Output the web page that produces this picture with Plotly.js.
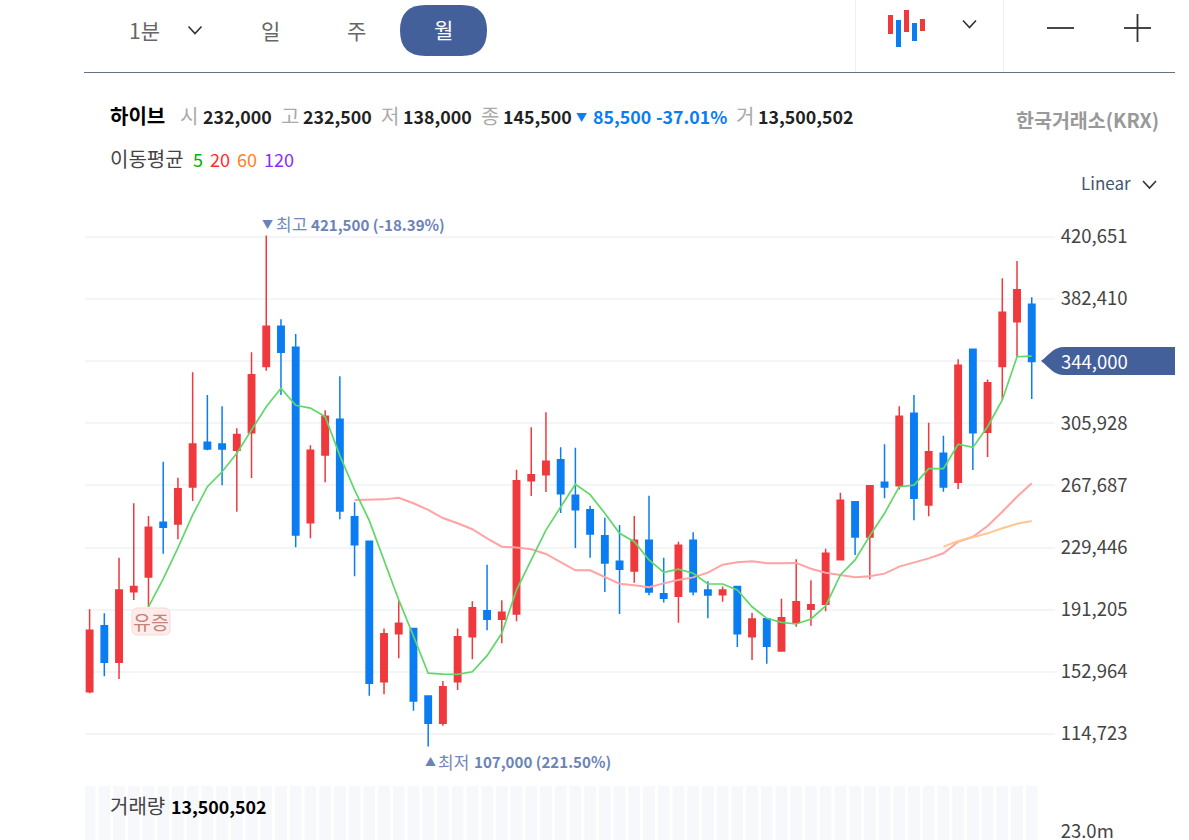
<!DOCTYPE html>
<html><head><meta charset="utf-8">
<script src="https://cdn.plot.ly/plotly-3.0.1.min.js"></script>
<style>html,body{margin:0;padding:0;background:#fff;overflow:hidden}#c{width:1189px;height:840px}</style>
</head><body><div id="c"></div>
<script>
const periods=[1,2,3,4,5,6,7,8,9,10,11,12,13,14,15,16,17,18,19,20,21,22,23,24,25,26,27,28,29,30,31,32,33,34,35,36,37,38,39,40,41,42,43,44,45,46,47,48,49,50,51,52,53,54,55,56,57,58,59,60,61,62,63,64,65];
const opens=[140700,181300,158800,202300,211300,245000,243900,266700,294200,293200,289300,300100,340800,365600,352700,244700,286400,308400,248400,233300,146900,176400,179700,138100,121300,146900,174600,190600,185300,188500,270600,274300,283500,261600,252700,236700,221000,215000,233900,201000,199400,233900,203300,200400,205400,174600,185700,165800,183400,191400,194500,222000,257700,235900,269600,267500,312100,255600,287500,269600,351500,300400,340800,368400,379200];
const highs=[191400,189000,223200,256700,248900,282300,272400,337300,323300,316400,302800,349600,421500,369900,360900,292400,313900,334800,257300,233300,179700,196500,179700,138100,147300,179700,196400,218900,197000,277400,303500,312700,291100,290900,255200,247800,243300,248900,261400,223200,233000,238800,208700,205400,205400,189300,185700,198000,222200,209300,228700,263200,257700,267500,293000,316400,323300,306300,298300,345300,351500,332800,395200,405800,383500];
const lows=[139700,150200,148500,197200,192900,225700,234500,258100,289300,267800,251500,272300,338300,323300,229600,235100,269600,246800,211800,138300,139100,161300,129000,107000,119800,141800,160700,178500,170500,184100,261200,263600,250700,229200,223200,202100,188500,207800,200100,195700,183200,200100,185900,196100,168200,160200,158000,165800,180700,181300,190200,222000,224900,209900,259800,265100,246200,248700,263800,265500,277200,285200,320300,346900,320900];
const closes=[178500,158800,203300,205400,241900,241900,265700,293200,290100,290100,299100,335800,365600,349600,237200,289300,310200,251900,231200,145900,176400,182800,135000,121300,143800,174600,192400,185300,189600,270600,274300,282500,262600,252700,237800,219900,216100,233900,202100,198200,230800,202300,200200,203300,176400,185500,168700,186300,196100,194300,225900,258500,235900,267500,266700,310200,259800,288400,266700,341600,300100,330900,374200,388100,344000];
const ma5=[192900,210100,229200,249500,266900,276100,287500,301800,316100,327500,317000,315300,310000,286000,264900,246000,221800,197200,175000,152100,151600,151400,153000,162900,176700,203300,221800,240200,254400,268400,262000,250500,238200,233000,221800,214200,216100,213600,207000,207000,203300,193000,185900,183400,182400,185500,193500,212600,221800,236700,250500,266900,267900,278000,278000,293000,291100,303800,320300,346900,347300];
const ma20=[258700,259100,259100,260100,256700,252600,247600,244400,240700,235100,230000,229400,228400,225500,220400,215400,215400,211500,207200,206200,205000,207400,209500,211100,214000,218900,220400,221000,219800,219800,220000,216400,214000,212600,211100,211800,213400,217700,220100,222800,225900,233000,236100,242700,251500,260700,269000];
const ma60=[230000,233500,235800,238200,241300,244100,245800];
const volumeColumns=[28.75,28.75,28.75,28.75,28.75,28.75,28.75,28.75,28.75,28.75,28.75,28.75,28.75,28.75,28.75,28.75,28.75,28.75,28.75,28.75,28.75,28.75,28.75,28.75,28.75,28.75,28.75,28.75,28.75,28.75,28.75,28.75,28.75,28.75,28.75,28.75,28.75,28.75,28.75,28.75,28.75,28.75,28.75,28.75,28.75,28.75,28.75,28.75,28.75,28.75,28.75,28.75,28.75,28.75,28.75,28.75,28.75,28.75,28.75,28.75,28.75,28.75,28.75,28.75,28.75];
const priceTicks=[114723,152964,191205,229446,267687,305928,344000,382410,420651];
const priceLabels=['114,723','152,964','191,205','229,446','267,687','305,928','','382,410','420,651'];
const volumeTicks=[23.0];
const volumeLabels=['23.0m'];

const RED='#EF393D',BLUE='#0A7DF3',NAVY='#44609A',FONT='"Noto Sans CJK KR","Noto Sans",sans-serif';
const W=1189,H=840,fx=x=>x/W,fy=y=>1-y/H;
const annotations=[],shapes=[];
function T(x,y,text,size,color,o={}){annotations.push({xref:'paper',yref:'paper',x:fx(x),y:fy(y),text,showarrow:false,
  xanchor:o.a||'left',yanchor:'middle',borderpad:0,font:{family:FONT,size,color,weight:o.w||400}});}
function path(pts){return pts.map(s=>typeof s==='string'?s:(fx(s[0]).toFixed(5)+','+fy(s[1]).toFixed(5))).join(' ');}
function R(x0,y0,x1,y1,fill){shapes.push({type:'rect',xref:'paper',yref:'paper',x0:fx(x0),x1:fx(x1),y0:fy(y0),y1:fy(y1),fillcolor:fill,line:{width:0},layer:'above'});}
function L(x0,y0,x1,y1,c,w){shapes.push({type:'line',xref:'paper',yref:'paper',x0:fx(x0),x1:fx(x1),y0:fy(y0),y1:fy(y1),line:{color:c,width:w},layer:'above'});}
function P(d,fill,lc,lw){shapes.push({type:'path',xref:'paper',yref:'paper',path:d,fillcolor:fill||'rgba(0,0,0,0)',line:{color:lc||'rgba(0,0,0,0)',width:lw||0},layer:'above'});}
function chevron(x,y,r,c){P('M'+path([[x-r,y-r*0.55]])+' L'+path([[x,y+r*0.55]])+' L'+path([[x+r,y-r*0.55]]),null,c||'#333',1.6);}
function rounded(x0,y0,x1,y1,r,fill,lc,lw){
  P('M'+path([[x0+r,y0]])+' L'+path([[x1-r,y0]])+' Q'+path([[x1,y0]])+' '+path([[x1,y0+r]])+' L'+path([[x1,y1-r]])+' Q'+path([[x1,y1]])+' '+path([[x1-r,y1]])+' L'+path([[x0+r,y1]])+' Q'+path([[x0,y1]])+' '+path([[x0,y1-r]])+' L'+path([[x0,y0+r]])+' Q'+path([[x0,y0]])+' '+path([[x0+r,y0]])+' Z',fill,lc,lw);
}
// toolbar
L(84,72.5,1175,72.5,'#667080',1);
L(855.5,0,855.5,72,'#EFEFEF',1);
L(1003.5,0,1003.5,72,'#EFEFEF',1);
rounded(400,5,487,56,25.5,NAVY);
T(128,30,'1분',21,'#666');chevron(195,30,6.5,'#333');
T(260,30,'일',21,'#666');T(346,30,'주',21,'#666');T(433,29,'월',21,'#fff');
R(888,15,893,34,RED);R(896,20,901,47,BLUE);R(904,10,909,32,RED);R(912,23,917,41,BLUE);R(920,19,925,31,RED);
chevron(969.5,24,6.5,'#333');
L(1047,28,1074,28,'#333',1.8);L(1124,28,1151,28,'#333',1.8);L(1137.5,14,1137.5,42,'#333',1.8);
// quote line
T(109,116,'하이브',20,'#000',{w:700});
T(179,116,'시',20,'#aaa');T(201.5,116,'232,000',17.8,'#222',{w:700});
T(280,116,'고',20,'#aaa');T(301.5,116,'232,500',17.8,'#222',{w:700});
T(380,116,'저',20,'#aaa');T(401.5,116,'138,000',17.8,'#222',{w:700});
T(480,116,'종',20,'#aaa');T(501.5,116,'145,500',17.8,'#222',{w:700});
T(575,117,'▼',11,'#0A7DF3');T(592,116,'85,500',17.8,'#0A7DF3',{w:700});T(655,116,'-37.01%',17.8,'#0A7DF3',{w:700});
T(735,116,'거',20,'#aaa');T(756.5,116,'13,500,502',17.8,'#222',{w:700});
T(1160,120,'한국거래소(KRX)',19.5,'#999',{a:'right',w:700});
// moving-average legend
T(109,158,'이동평균',20,'#444');T(191.5,159,'5',18,'#00B300');T(208.5,159,'20',18,'#FF2D2D');T(235.5,159,'60',18,'#FF7F1E');T(262.5,159,'120',18,'#8A2BFF');
T(1079.5,182,'Linear',17,'#44556F');chevron(1149.5,184.5,6.5,'#333');
// extremes
T(261,224,'▼',11,'#6C83B8');T(274.5,224,'최고',17,'#7388BC');T(309.5,224,'421,500 (-18.39%)',15.1,'#6C83B8',{w:700});
T(424,761,'▲',11,'#6C83B8');T(436.5,761,'최저',17,'#7388BC');T(472.5,761,'107,000 (221.50%)',15.1,'#6C83B8',{w:700});
// rights-offering badge
rounded(132,608,170,635,6,'#FDECEA','#F7D9D5',1);
T(151,621.5,'유증',19.5,'#C4837A',{a:'center'});
// last-price tag
P('M'+path([[1041,361]])+' C'+path([[1050,354]])+' '+path([[1054,347]])+' '+path([[1064,347]])+' L'+path([[1175,347]])+' L'+path([[1175,375]])+' L'+path([[1064,375]])+' C'+path([[1054,375]])+' '+path([[1050,368]])+' '+path([[1041,361]])+' Z',NAVY);
T(1059.5,361,'344,000',18.5,'#fff');
// volume caption
T(109,805,'거래량',20,'#444');T(170.5,806,'13,500,502',17.8,'#000',{w:700});

const data=[
 {type:'bar',x:periods,y:volumeColumns,xaxis:'x',yaxis:'y2',width:0.79,marker:{color:'#F6F8FC',line:{width:0}},hoverinfo:'skip',showlegend:false},
 {type:'candlestick',x:periods,open:opens,high:highs,low:lows,close:closes,xaxis:'x',yaxis:'y',whiskerwidth:0,
  increasing:{line:{color:RED,width:1.5},fillcolor:RED},decreasing:{line:{color:BLUE,width:1.5},fillcolor:BLUE},showlegend:false},
 {type:'scatter',mode:'lines',x:periods.slice(18),y:ma20,line:{color:'#FFA3A5',width:2},hoverinfo:'skip',showlegend:false},
 {type:'scatter',mode:'lines',x:periods.slice(58),y:ma60,line:{color:'#FFC690',width:2},hoverinfo:'skip',showlegend:false},
 {type:'scatter',mode:'lines',x:periods.slice(4),y:ma5,line:{color:'#5FD868',width:1.7},hoverinfo:'skip',showlegend:false}
];
const layout={width:W,height:H,margin:{l:0,r:0,t:0,b:0},paper_bgcolor:'#fff',plot_bgcolor:'rgba(0,0,0,0)',showlegend:false,
 boxgap:0.38,boxmode:'overlay',bargap:0.2,
 font:{family:FONT},
 xaxis:{domain:[85/W,1055/W],range:[0.6875,66.58],visible:false,fixedrange:true,rangeslider:{visible:false},anchor:'y'},
 yaxis:{domain:[1-770/H,1-200/H],range:[92537,443349],side:'right',anchor:'x',tickmode:'array',tickvals:priceTicks,ticktext:priceLabels,
   showgrid:true,gridcolor:'#F3F5F8',gridwidth:2,zeroline:false,showline:false,ticks:'outside',ticklen:1,tickcolor:'rgba(0,0,0,0)',
   tickfont:{family:FONT,size:18.5,color:'#444'},fixedrange:true},
 yaxis2:{domain:[0,54/H],range:[22,28.75],side:'right',anchor:'x',tickmode:'array',tickvals:volumeTicks,ticktext:volumeLabels,ticklabeloverflow:'allow',
   showgrid:false,zeroline:false,showline:false,ticks:'outside',ticklen:1,tickcolor:'rgba(0,0,0,0)',
   tickfont:{family:FONT,size:18.5,color:'#444'},fixedrange:true},
 annotations,shapes};
Plotly.newPlot('c',data,layout,{displayModeBar:false,staticPlot:true});
</script></body></html>
